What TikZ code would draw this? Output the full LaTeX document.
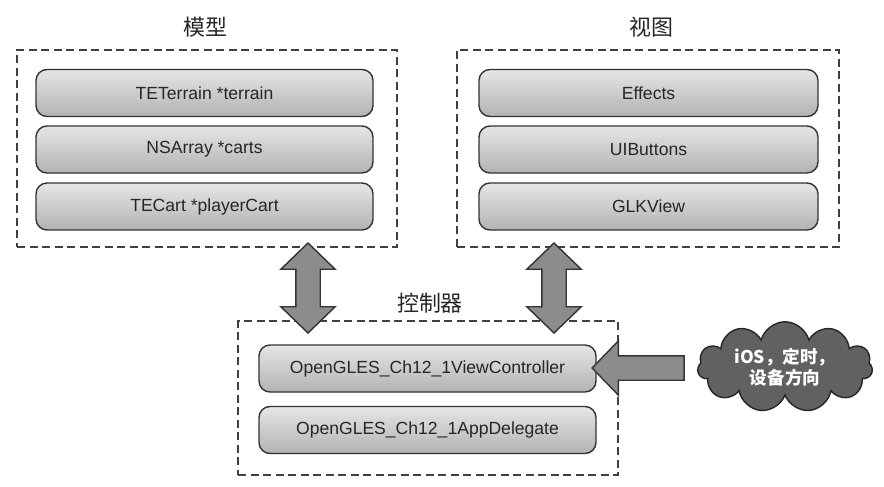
\documentclass[tikz,border=0pt]{standalone}
\usepackage{fontspec}
\setmainfont{Liberation Sans}
\newfontfamily\cjk{Noto Sans CJK SC}
\usetikzlibrary{shapes.arrows,shapes.symbols}

\tikzset{
  grp/.style={draw=black!75, line width=0.8pt, dash pattern=on 0.16cm off 0.09cm,
    minimum width=7.6cm},
  item/.style={draw=black!80, line width=0.8pt, rounded corners=0.22cm,
    top color=gray!20, bottom color=gray!60, minimum width=6.74cm,
    minimum height=0.94cm, font=\fontsize{10}{12}\selectfont, text=black!85},
  title/.style={font=\cjk\fontsize{12.5}{14}\selectfont, text=black!85},
  bigarrow/.style={draw=black!80, line width=0.8pt, fill=gray!90, inner xsep=0pt,
    inner ysep=0.23cm}
}

\begin{document}
\begin{tikzpicture}
  \useasboundingbox (0,0) rectangle (17.68,9.72);

  % ─────────── 模型 ───────────
  \node[title] (tmodel) at (4.10,9.18) {模型};
  \node[grp, minimum height=3.94cm] (model) at (4.14,6.75) {};
  \node[item] (terrain) at (4.09,7.86) {TETerrain *terrain};
  \node[item] (carts)   at (4.09,6.73) {NSArray *carts};
  \node[item] (player)  at (4.09,5.59) {TECart *playerCart};

  % ─────────── 视图 ───────────
  \node[title] (tview) at (13.02,9.18) {视图};
  \node[grp, minimum width=7.64cm, minimum height=3.94cm] (view) at (12.96,6.75) {};
  \node[item, minimum width=6.78cm] (effects) at (12.97,7.86) {Effects};
  \node[item, minimum width=6.78cm] (buttons) at (12.97,6.73) {UIButtons};
  \node[item, minimum width=6.78cm] (glk)     at (12.97,5.59) {GLKView};

  % ─────────── 控制器 ───────────
  \node[title] (tctrl) at (8.60,3.66) {控制器};
  \node[grp, minimum height=3.08cm] (ctrl) at (8.56,1.76) {};
  \node[item] (vc)  at (8.55,2.35) {OpenGLES\_Ch12\_1ViewController};
  \node[item] (app) at (8.55,1.12) {OpenGLES\_Ch12\_1AppDelegate};

  % ─────────── 箭头 ───────────
  \node[bigarrow, double arrow, rotate=90, minimum height=1.80cm,
    double arrow head extend=0.3cm, double arrow tip angle=92] (a1) at (6.16,3.96) {};
  \node[bigarrow, double arrow, rotate=90, minimum height=1.80cm,
    double arrow head extend=0.3cm, double arrow tip angle=92] (a2) at (11.08,3.96) {};

  % ─────────── 外部事件 ───────────
  \node[cloud, cloud puffs=11, aspect=2.3, draw=black!85, line width=0.8pt,
    fill=black!62, minimum width=3.5cm, minimum height=1.58cm, inner sep=0pt,
    text=white, align=center, font=\cjk\bfseries\fontsize{10}{12}\selectfont]
    (ios) at (15.70,2.38) {iOS，定时，\\设备方向};
  \node[bigarrow, single arrow, shape border rotate=180, minimum height=1.84cm,
    single arrow head extend=0.3cm, single arrow tip angle=92] (a3) at (12.88,2.36) {};
\end{tikzpicture}
\end{document}
